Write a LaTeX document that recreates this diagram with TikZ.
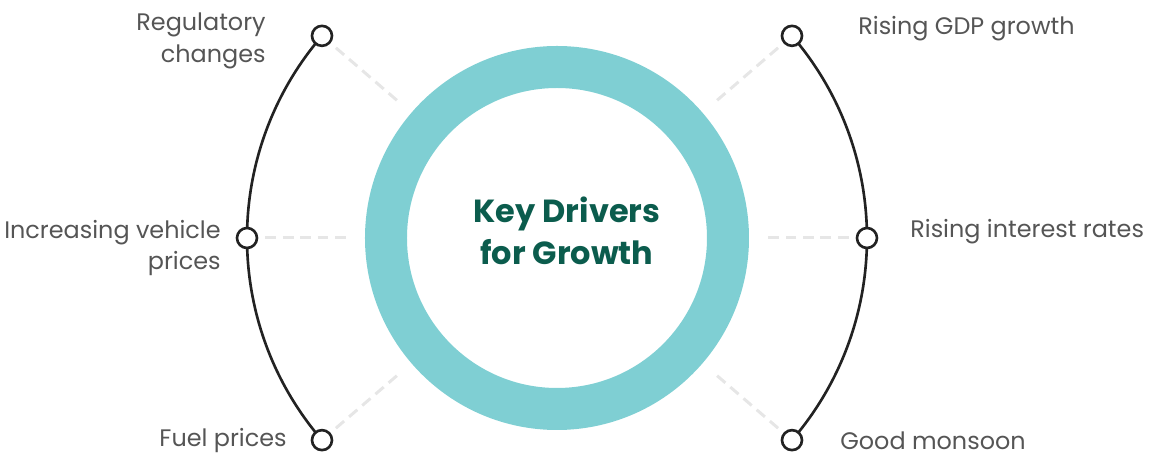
\documentclass[tikz,border=0pt]{standalone}
\usepackage{fontspec}
\setmainfont{Poppins}
\usetikzlibrary{positioning}

\definecolor{ringteal}{HTML}{7FCFD3}
\definecolor{titlegreen}{HTML}{0B5C4D}
\definecolor{labelgray}{HTML}{555555}
\definecolor{guidegray}{HTML}{E6E6E6}
\definecolor{arcblack}{HTML}{222222}

\tikzset{
  marker/.style={circle, draw=arcblack, fill=white, line width=1.5pt,
    minimum size=0.40cm, inner sep=0pt},
  arcline/.style={draw=arcblack, line width=1.5pt},
  guide/.style={draw=guidegray, line width=1.7pt, dash pattern=on 6.2pt off 3.7pt,
    shorten <=0.14cm},
  driver/.style={text=labelgray, inner sep=0pt, font=\fontsize{13.6}{18}\selectfont},
}

\begin{document}
\begin{tikzpicture}
  \useasboundingbox (-11.14,-4.40) rectangle (11.94,4.76);

  % central ring
  \draw[ringteal, line width=0.84cm] (0,0) circle (3.42cm);
  \node[text=titlegreen, align=center, font=\fontsize{18.2}{24}\selectfont\bfseries]
    (title) at (0.2,0.14) {Key Drivers\\for Growth};

  % marker positions on the two outer arcs
  \coordinate (regpos) at (139.3:6.2);
  \coordinate (vehpos) at (180:6.2);
  \coordinate (fuelpos) at (220.7:6.2);
  \coordinate (gdppos) at (40.7:6.2);
  \coordinate (ratepos) at (0:6.2);
  \coordinate (monpos) at (-40.7:6.2);

  % the arcs themselves
  \draw[arcline] (regpos) arc[start angle=139.3, end angle=220.7, radius=6.2cm];
  \draw[arcline] (gdppos) arc[start angle=40.7, end angle=-40.7, radius=6.2cm];

  \node[marker] (regmark) at (regpos) {};
  \node[marker] (vehmark) at (vehpos) {};
  \node[marker] (fuelmark) at (fuelpos) {};
  \node[marker] (gdpmark) at (gdppos) {};
  \node[marker] (ratemark) at (ratepos) {};
  \node[marker] (monmark) at (monpos) {};

  % dashed guides towards the ring
  \coordinate (regin) at (139.3:4.2);
  \coordinate (vehin) at (180:4.2);
  \coordinate (fuelin) at (220.7:4.2);
  \coordinate (gdpin) at (40.7:4.2);
  \coordinate (ratein) at (0:4.2);
  \coordinate (monin) at (-40.7:4.2);
  \draw[guide] (regmark) -- (regin);
  \draw[guide] (vehmark) -- (vehin);
  \draw[guide] (fuelmark) -- (fuelin);
  \draw[guide] (gdpmark) -- (gdpin);
  \draw[guide] (ratemark) -- (ratein);
  \draw[guide] (monmark) -- (monin);

  % labels
  \node[driver, anchor=east, align=right] (reg) at (-5.82,3.94) {Regulatory\\changes};
  \node[driver, anchor=east, align=right] (veh) at (-6.72,-0.20) {Increasing vehicle\\prices};
  \node[driver, anchor=east] (fuel) at (-5.40,-4.06) {Fuel prices};
  \node[driver, anchor=west] (gdp) at (6.02,4.18) {Rising GDP growth};
  \node[driver, anchor=west] (rate) at (7.06,0.12) {Rising interest rates};
  \node[driver, anchor=west] (mon) at (5.66,-4.06) {Good monsoon};
\end{tikzpicture}
\end{document}
